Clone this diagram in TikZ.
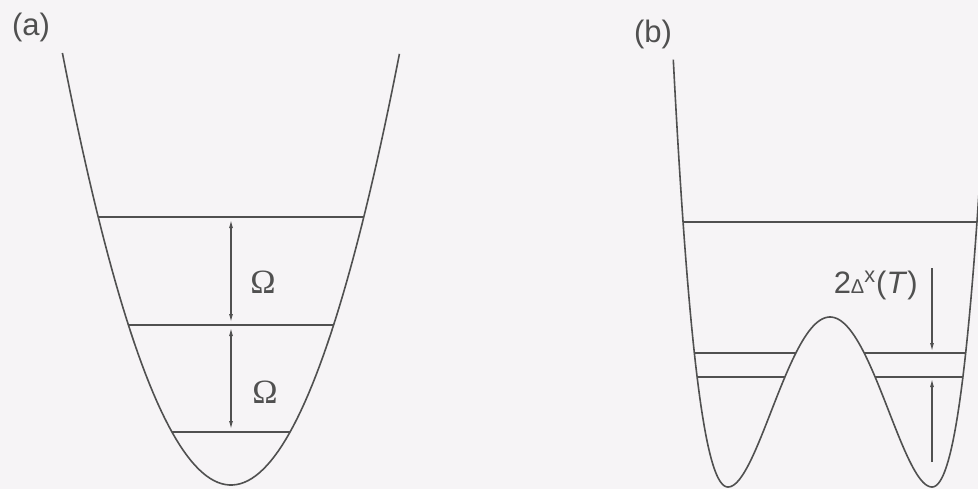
\documentclass[tikz,border=0pt]{standalone}
\usepackage{fontspec}
\setmainfont{Liberation Serif}
\setsansfont{Liberation Sans}
\usetikzlibrary{arrows.meta}
\definecolor{ink}{RGB}{80,80,80}
\definecolor{paper}{RGB}{246,244,246}
\begin{document}
\begin{tikzpicture}[
    x=0.5pt, y=-0.5pt,
    curve/.style={ink, line width=0.8pt, line join=round},
    level/.style={ink, line width=0.75pt},
    arr/.style={ink, line width=0.55pt, -{Latex[length=4pt,width=2pt]}},
    darr/.style={ink, line width=0.55pt, {Latex[length=4pt,width=2pt]}-{Latex[length=4pt,width=2pt]}, shorten <=1.5pt, shorten >=1.5pt},
    panel/.style={font=\sffamily\fontsize{15.5}{18}\selectfont, text=ink, inner sep=0pt},
    gap/.style={font=\rmfamily\fontsize{17}{20}\selectfont, text=ink, inner sep=0pt},
    declare function={dw(\u)=487-170*(\u*\u-1)*(\u*\u-1);}
]
\fill[paper] (0,0) rectangle (978,489);
\useasboundingbox (0,0) rectangle (978,489);
\clip (0,0) rectangle (978,489);

\node[panel] (pa) at (31,27) {(a)};
\node[panel] (pb) at (653,34) {(b)};

\draw[curve] plot[domain=-1:1, samples=90] ({231+168.6*\x},{485-432*\x*\x});
\coordinate (e0) at (231,217);
\coordinate (e1) at (231,325);
\coordinate (e2) at (231,432);
\draw[level] (98.2,217) -- (363.8,217);
\draw[level] (128.4,325) -- (333.6,325);
\draw[level] (172,432) -- (290,432);
\draw[darr] (e0) -- (e1);
\draw[darr] (e1) -- (e2);
\node[gap] (om1) at (263,282) {Ω};
\node[gap] (om2) at (265,392) {Ω};

\draw[curve] plot[domain=-1.608:-1, samples=40] ({830-102-90*(-\x-1)},{dw(\x)})
  -- plot[domain=-1:1, samples=120] ({830+102*\x},{dw(\x)})
  -- plot[domain=1:1.7, samples=40] ({830+102+90*(\x-1)},{dw(\x)});
\draw[level] (683,222) -- (977,222);
\draw[level] (694,353) -- (796,353);
\draw[level] (864,353) -- (966,353);
\draw[level] (697,377) -- (785,377);
\draw[level] (875,377) -- (963,377);
\coordinate (t0) at (932,268);
\coordinate (t1) at (932,351);
\coordinate (t2) at (932,379);
\coordinate (t3) at (932,462);
\draw[arr] (t0) -- (t1);
\draw[arr] (t3) -- (t2);
\node[anchor=base east, inner sep=0pt, text=ink, font=\sffamily\fontsize{15.5}{18}\selectfont] (dlt) at (918,293)
  {2{\fontsize{10}{12}\selectfont Δ}\textsuperscript{x}(\textit{T})};
\end{tikzpicture}
\end{document}
